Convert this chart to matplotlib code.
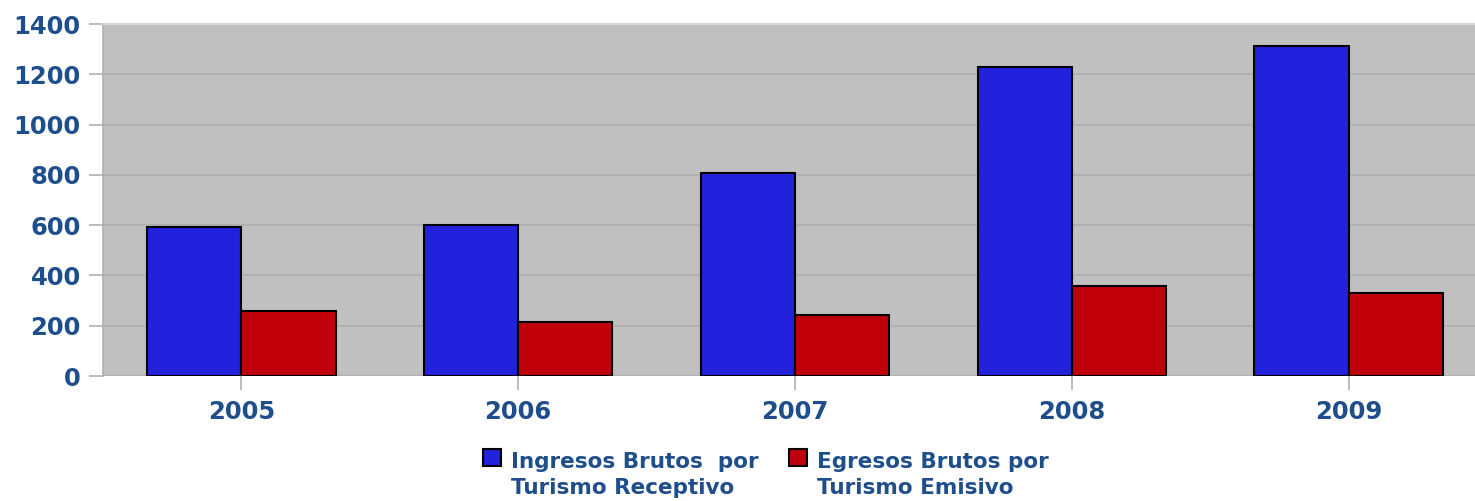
import numpy as np
import matplotlib.pyplot as plt

years = ['2005', '2006', '2007', '2008', '2009']
ingresos = [593, 600, 807, 1230, 1312]
egresos = [258, 215, 243, 358, 330]
labels = ['Ingresos Brutos  por\nTurismo Receptivo', 'Egresos Brutos por\nTurismo Emisivo']

text_color = '#1F4E8C'

fig = plt.figure(figsize=(14.75, 5.01), dpi=100)
ax = fig.add_axes([103 / 1475, 1 - 376 / 501, 1384 / 1475, 352 / 501])
ax.set_facecolor('#C0C0C0')

x = np.arange(len(years))
w = 0.34
ax.bar(x - w / 2, ingresos, w, color='#2222DD', edgecolor='black', linewidth=1.5,
       label=labels[0], zorder=3)
ax.bar(x + w / 2, egresos, w, color='#C0000A', edgecolor='black', linewidth=1.5,
       label=labels[1], zorder=3)

ax.set_ylim(0, 1400)
ax.set_xlim(-0.5, 4.5)
ax.set_yticks(range(0, 1401, 200))
ax.set_xticks(x)
ax.set_xticklabels(years)
ax.yaxis.grid(True, color='#B0B0B0', linewidth=1.3, zorder=0)
ax.set_axisbelow(True)

for side in ['right', 'bottom']:
    ax.spines[side].set_visible(False)
ax.spines['left'].set_color('#B0B0B0')
ax.spines['top'].set_color('#D4D4D4')
ax.spines['left'].set_linewidth(1.2)
ax.spines['top'].set_linewidth(1.5)

ax.tick_params(axis='both', colors='#B0B0B0', length=10, width=1.2,
               labelcolor=text_color, labelsize=17.5)
ax.tick_params(axis='x', pad=7)
ax.tick_params(axis='y', pad=6)
for t in ax.get_xticklabels() + ax.get_yticklabels():
    t.set_fontweight('bold')

leg = fig.legend(loc='upper center', bbox_to_anchor=(0.519, 0.12), ncol=2,
                 frameon=False, handlelength=0.85, handleheight=0.85,
                 handletextpad=0.45, columnspacing=1.4, borderpad=0,
                 prop={'weight': 'bold', 'size': 15.5})
for t in leg.get_texts():
    t.set_color(text_color)
    t.set_linespacing(1.4)
# put the square next to the first line of the label, as in the source chart
for h in leg.legend_handles:
    h.set_y(h.get_y() + 13)

fig.savefig('out.png', dpi=100)
